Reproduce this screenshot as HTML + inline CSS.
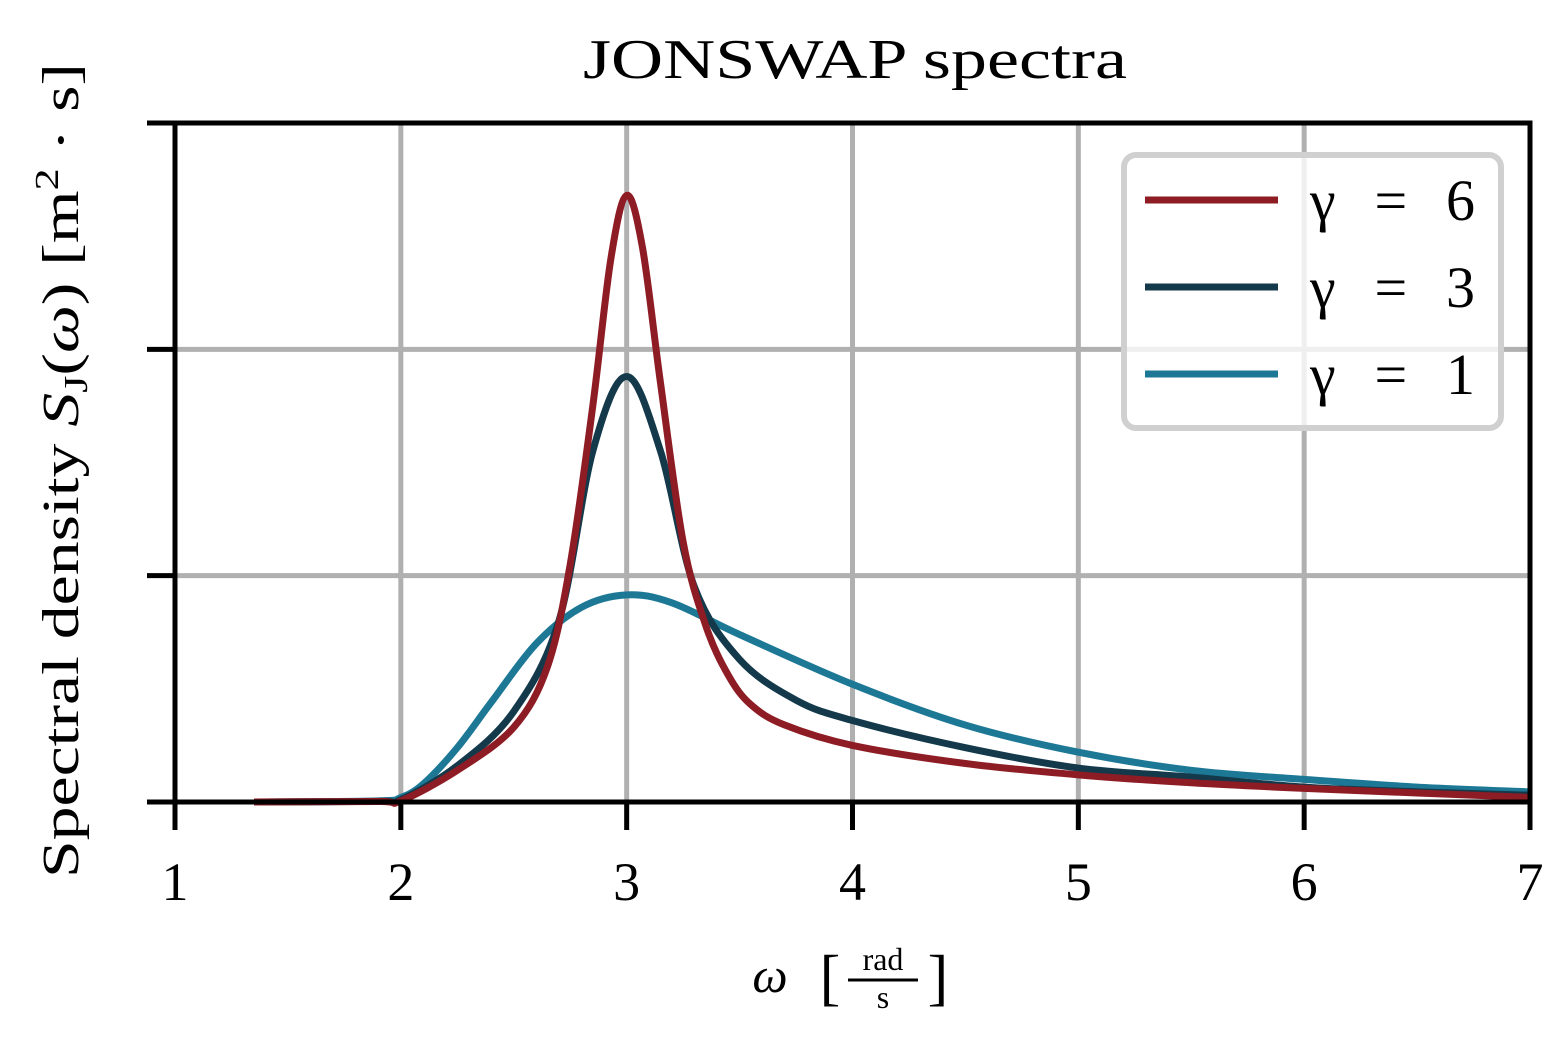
<!DOCTYPE html>
<html><head><meta charset="utf-8"><style>
html,body{margin:0;padding:0;background:#fff;}
svg text{font-family:"Liberation Serif","DejaVu Serif",serif;fill:#000;}
</style></head><body>
<svg id="chart" width="1567" height="1034" viewBox="0 0 1567 1034" xmlns="http://www.w3.org/2000/svg">
<g id="grid"></g>
<g id="series"></g>
<g id="axes"></g>
<text x="583" y="78" font-size="56" textLength="544" lengthAdjust="spacingAndGlyphs">JONSWAP spectra</text>
<text transform="translate(78,878) rotate(-90)" font-size="52" textLength="815" lengthAdjust="spacingAndGlyphs">Spectral density <tspan font-style="italic">S</tspan><tspan font-size="34" dy="9">J</tspan><tspan dy="-9">(</tspan><tspan font-style="italic">ω</tspan>)  [m<tspan font-size="34" dy="-20">2</tspan><tspan dy="20"> · s]</tspan></text>
<g>
<text x="770" y="992" font-size="50" font-style="italic" text-anchor="middle">ω</text>
<text x="830" y="998" font-size="62" text-anchor="middle">[</text>
<text x="883" y="970" font-size="32" text-anchor="middle">rad</text>
<line x1="848" y1="980" x2="918" y2="980" stroke="#000" stroke-width="3"/>
<text x="883" y="1008" font-size="32" text-anchor="middle">s</text>
<text x="938" y="998" font-size="62" text-anchor="middle">]</text>
</g>
<g>
<rect x="1124" y="155" width="377" height="273" rx="12" fill="#fff" fill-opacity="0.8" stroke="#d0d0d0" stroke-width="6"/>
</g>
<g id="legend-entries"></g>
</svg>
<script>
const xTicks=[1,2,3,4,5,6,7];
const yTicks=[0,1,2,3];
const omega6=[1.35,1.9,2.0,2.25,2.5,2.65,2.75,2.85,2.93,3.0,3.07,3.15,3.25,3.35,3.45,3.55,3.7,4.0,4.5,5.0,5.5,6.0,6.5,7.0];
const gamma6=[0,0.002,0.005,0.14,0.33,0.6,1.05,1.75,2.4,2.68,2.45,1.85,1.15,0.78,0.56,0.43,0.34,0.25,0.17,0.12,0.085,0.06,0.04,0.02];
const omega3=[1.35,1.9,2.0,2.25,2.5,2.7,2.85,3.0,3.15,3.3,3.5,3.75,4.0,4.5,5.0,5.5,6.0,6.5,7.0];
const gamma3=[0,0.003,0.01,0.16,0.4,0.8,1.55,1.88,1.55,0.95,0.63,0.45,0.36,0.24,0.15,0.11,0.066,0.045,0.03];
const omega1=[1.35,1.9,2.0,2.1,2.25,2.4,2.6,2.8,3.0,3.2,3.5,4.0,4.5,5.0,5.5,6.0,6.5,7.0];
const gamma1=[0,0.005,0.02,0.08,0.24,0.44,0.7,0.86,0.915,0.88,0.74,0.52,0.34,0.22,0.14,0.1,0.066,0.045];
const labels=["γ = 6","γ = 3","γ = 1"];
const colors=["#8e1c24","#13394a","#1d7896"];

const X0=175,X1=1530,Y0=802,Y3=123;
const sx=v=>X0+(v-1)/6*(X1-X0);
const sy=v=>Y0-v/3*(Y0-Y3);
const NS="http://www.w3.org/2000/svg";
function mk(t,a,p){const e=document.createElementNS(NS,t);for(const k in a)e.setAttribute(k,a[k]);p.appendChild(e);return e;}
const grid=document.getElementById('grid'),axes=document.getElementById('axes'),series=document.getElementById('series');
xTicks.forEach(t=>{
 if(t>1&&t<7){const g=mk('line',{x1:sx(t),x2:sx(t),y1:Y3,y2:Y0,stroke:'#b0b0b0','stroke-width':5},grid);
 
 }
 const tk=mk('line',{x1:sx(t),x2:sx(t),y1:Y0,y2:Y0+28,stroke:'#000','stroke-width':5},axes);
 
 
 const tl=mk('text',{x:sx(t),y:900,'font-size':54,'text-anchor':'middle'},axes);tl.textContent=t;
 
 
});
yTicks.forEach(t=>{
 if(t>0&&t<3){const g=mk('line',{x1:X0,x2:X1,y1:sy(t),y2:sy(t),stroke:'#b0b0b0','stroke-width':5},grid);
 
 }
 const tk=mk('line',{x1:X0-28,x2:X0,y1:sy(t),y2:sy(t),stroke:'#000','stroke-width':5},axes);
 
 
});
const sp=mk('rect',{x:X0,y:Y3,width:X1-X0,height:Y0-Y3,fill:'none',stroke:'#000','stroke-width':5},axes);


function path(xs,ys){
 const p=xs.map((x,i)=>[sx(x),sy(ys[i])]);let d=`M${p[0][0]},${p[0][1]}`;
 for(let i=0;i<p.length-1;i++){const a=p[Math.max(0,i-1)],b=p[i],c=p[i+1],e=p[Math.min(p.length-1,i+2)];
  const c1=[b[0]+(c[0]-a[0])/6,b[1]+(c[1]-a[1])/6],c2=[c[0]-(e[0]-b[0])/6,c[1]-(e[1]-b[1])/6];
  d+=` C${c1[0]},${c1[1]} ${c2[0]},${c2[1]} ${c[0]},${c[1]}`;}
 return d;}
[[omega1,gamma1,2,'line-gamma-1'],[omega3,gamma3,1,'line-gamma-3'],[omega6,gamma6,0,'line-gamma-6']].forEach(([xs,ys,ci,n])=>{
 const l=mk('path',{d:path(xs,ys),fill:'none',stroke:colors[ci],'stroke-width':7,'stroke-linejoin':'round'},series);
 
 
});
const lg=document.getElementById('legend-entries');
labels.forEach((s,i)=>{const y=200+i*87;
 const l=mk('line',{x1:1145,x2:1278,y1:y,y2:y,stroke:colors[i],'stroke-width':7},lg);
 
 
 const t=mk('text',{x:1310,y:y+20,'font-size':58,textLength:165,lengthAdjust:'spacing'},lg);t.textContent=s;
 
 
});
</script>
</body></html>
